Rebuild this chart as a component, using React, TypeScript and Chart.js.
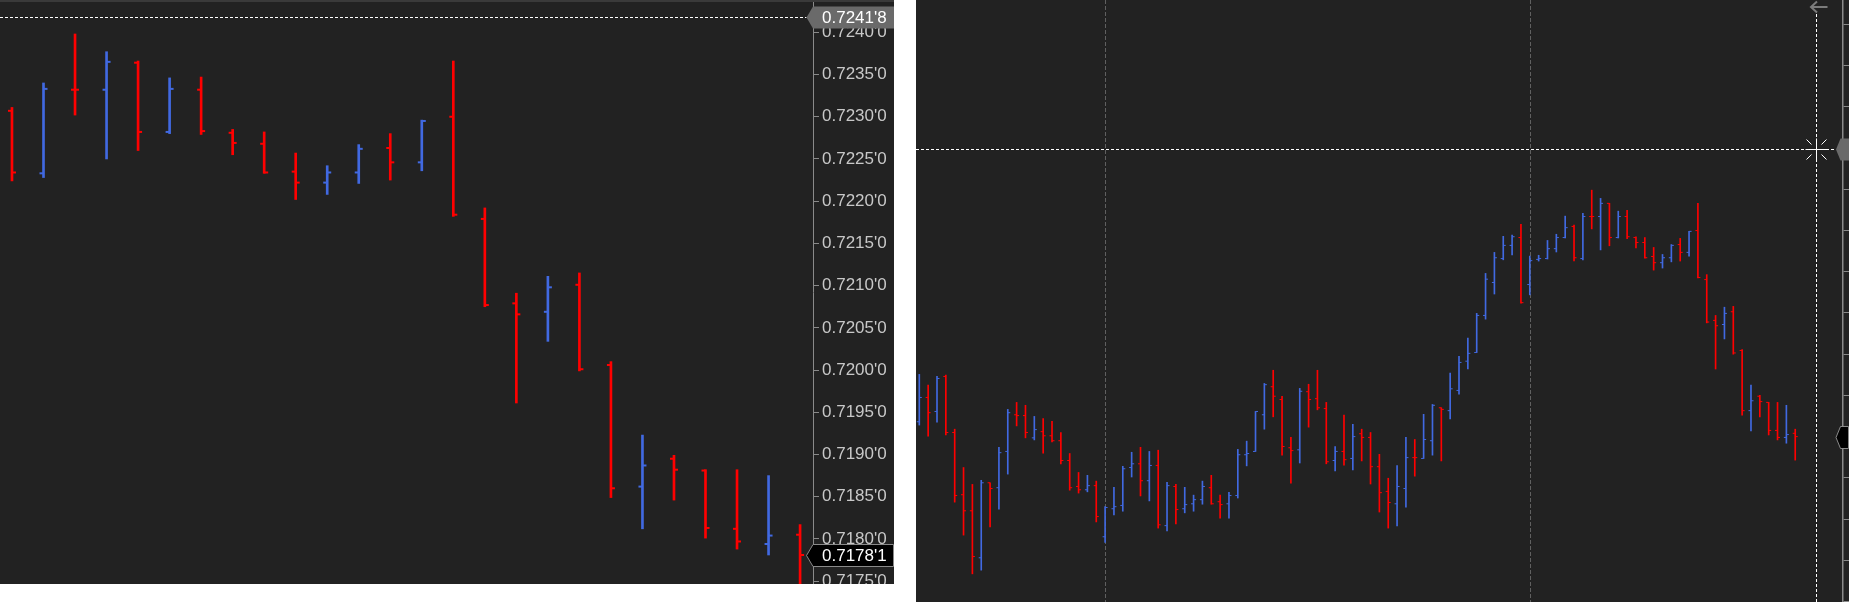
import React, { useEffect, useRef } from "react";
import { Chart, registerables } from "chart.js";

Chart.register(...registerables);

// ---------- Left panel (zoomed view, last 26 bars) ----------
const leftOpen = [0.72307, 0.72233, 0.72332, 0.72332, 0.72364, 0.72282, 0.72332, 0.72281, 0.72268, 0.72235, 0.72222, 0.72234, 0.72263, 0.72246, 0.723, 0.72179, 0.72079, 0.72069, 0.72101, 0.72006, 0.71862, 0.71895, 0.71881, 0.71812, 0.71794, 0.71805];
const leftHigh = [0.72311, 0.7234, 0.72398, 0.72377, 0.72366, 0.72346, 0.72347, 0.72285, 0.72282, 0.72257, 0.72242, 0.72267, 0.7228, 0.72296, 0.72366, 0.72192, 0.72091, 0.72111, 0.72115, 0.7201, 0.71923, 0.71899, 0.71882, 0.71882, 0.71875, 0.71817];
const leftLow = [0.72224, 0.72228, 0.72302, 0.7225, 0.7226, 0.7228, 0.72279, 0.72255, 0.72233, 0.72202, 0.72208, 0.72221, 0.72225, 0.72236, 0.72182, 0.72075, 0.71961, 0.72034, 0.71999, 0.71849, 0.71812, 0.71846, 0.71801, 0.71788, 0.71781, 0.71745];
const leftClose = [0.72234, 0.72333, 0.72332, 0.72365, 0.72282, 0.72333, 0.72283, 0.72269, 0.72234, 0.72222, 0.72234, 0.72262, 0.72246, 0.72295, 0.72184, 0.72077, 0.72066, 0.72098, 0.72001, 0.7186, 0.71887, 0.71882, 0.71813, 0.71797, 0.71804, 0.71781];
const leftTicks = [0.724, 0.7235, 0.723, 0.7225, 0.722, 0.7215, 0.721, 0.7205, 0.72, 0.7195, 0.719, 0.7185, 0.718, 0.7175];
const leftRange = { min: 0.7174664, max: 0.7243825, barMin: 0.62, barMax: 26.41 };
const leftCrossPrice = 0.72418;
const leftLastPrice = 0.71781;

// ---------- Right panel (overview, 100 bars) ----------
const rightOpen = [
  0.71836, 0.71895, 0.71861, 0.71946, 0.7181, 0.71659, 0.7162, 0.71506, 0.71688, 0.71676,
  0.71764, 0.71853, 0.71851, 0.71797, 0.71812, 0.71802, 0.7179, 0.71742, 0.71679, 0.71671,
  0.71681, 0.71557, 0.71625, 0.71633, 0.71725, 0.71734, 0.71693, 0.7173, 0.71584, 0.71679,
  0.71625, 0.71637, 0.71647, 0.71676, 0.71642, 0.71637, 0.71657, 0.71756, 0.71764, 0.71853,
  0.71921, 0.7189, 0.71773, 0.71768, 0.71909, 0.71892, 0.71868, 0.71742, 0.71764, 0.71747,
  0.71807, 0.71798, 0.71727, 0.71667, 0.71637, 0.71674, 0.71749, 0.71747, 0.7179, 0.7187,
  0.71863, 0.71912, 0.71983, 0.72004, 0.72094, 0.72174, 0.72232, 0.72264, 0.72283, 0.72169,
  0.7223, 0.72232, 0.72256, 0.72283, 0.7231, 0.72232, 0.72334, 0.72334, 0.72366, 0.72283,
  0.72334, 0.72283, 0.72271, 0.72237, 0.72222, 0.72234, 0.72266, 0.72247, 0.723, 0.72181,
  0.72082, 0.72072, 0.72103, 0.72009, 0.71863, 0.71898, 0.71883, 0.71815, 0.71798, 0.71808,
];
const rightHigh = [
  0.71951, 0.71925, 0.71946, 0.71949, 0.71818, 0.71725, 0.71684, 0.71694, 0.71688, 0.71774,
  0.71866, 0.71883, 0.71876, 0.71849, 0.71844, 0.71837, 0.7181, 0.71759, 0.71713, 0.71706,
  0.71692, 0.7163, 0.71677, 0.71728, 0.71762, 0.71774, 0.71764, 0.71767, 0.71689, 0.71684,
  0.71677, 0.71658, 0.71692, 0.71706, 0.71658, 0.71665, 0.71769, 0.71789, 0.71861, 0.71929,
  0.71961, 0.71898, 0.71798, 0.71917, 0.71927, 0.71961, 0.71883, 0.71776, 0.71852, 0.7183,
  0.71818, 0.7181, 0.71757, 0.71699, 0.7173, 0.71798, 0.71793, 0.71854, 0.71878, 0.7187,
  0.71954, 0.71995, 0.72039, 0.72099, 0.72196, 0.72247, 0.72286, 0.72289, 0.72315, 0.72238,
  0.7224, 0.72276, 0.72291, 0.72335, 0.72313, 0.72342, 0.72398, 0.72378, 0.72366, 0.72347,
  0.72349, 0.72285, 0.72283, 0.72259, 0.72242, 0.72266, 0.72281, 0.72298, 0.72366, 0.72193,
  0.72094, 0.72114, 0.72116, 0.72011, 0.71925, 0.719, 0.71883, 0.71883, 0.71876, 0.71818,
];
const rightLow = [
  0.71828, 0.71801, 0.71835, 0.71804, 0.71641, 0.71561, 0.71467, 0.71476, 0.71581, 0.71624,
  0.71709, 0.71826, 0.71797, 0.71792, 0.7176, 0.71787, 0.71734, 0.7167, 0.71663, 0.71666,
  0.71593, 0.71543, 0.7161, 0.71619, 0.71702, 0.71656, 0.71644, 0.71578, 0.71571, 0.71588,
  0.71615, 0.71619, 0.71636, 0.71636, 0.71602, 0.71602, 0.71651, 0.71729, 0.71764, 0.71818,
  0.71848, 0.71755, 0.71687, 0.71736, 0.71823, 0.71865, 0.71734, 0.71717, 0.71731, 0.71719,
  0.71741, 0.71685, 0.71617, 0.71578, 0.71583, 0.71629, 0.71704, 0.71747, 0.71755, 0.71741,
  0.71843, 0.71903, 0.71964, 0.72004, 0.72085, 0.72146, 0.72229, 0.72241, 0.72124, 0.72144,
  0.72226, 0.72231, 0.72248, 0.72282, 0.72226, 0.72229, 0.72304, 0.72253, 0.72263, 0.72282,
  0.7228, 0.72258, 0.72233, 0.72204, 0.72209, 0.72224, 0.72226, 0.72238, 0.72185, 0.72076,
  0.71964, 0.72037, 0.72, 0.71852, 0.71814, 0.71848, 0.71804, 0.71792, 0.71784, 0.71743,
];
const rightClose = [
  0.71895, 0.71858, 0.71941, 0.7181, 0.71657, 0.7162, 0.71509, 0.71688, 0.71674, 0.71761,
  0.71858, 0.71851, 0.7181, 0.71817, 0.71802, 0.7179, 0.71742, 0.71676, 0.71671, 0.71681,
  0.71606, 0.71628, 0.7163, 0.71722, 0.71734, 0.71693, 0.7173, 0.71586, 0.71681, 0.71623,
  0.71635, 0.71647, 0.71679, 0.71637, 0.71635, 0.71657, 0.71756, 0.71759, 0.71861, 0.71926,
  0.71898, 0.71776, 0.71766, 0.7191, 0.7189, 0.7187, 0.71739, 0.71764, 0.71744, 0.718,
  0.71798, 0.71727, 0.71664, 0.7164, 0.71679, 0.71749, 0.71749, 0.71793, 0.71876, 0.71866,
  0.71916, 0.7198, 0.72002, 0.72094, 0.72182, 0.72234, 0.72264, 0.72285, 0.72125, 0.72227,
  0.72232, 0.72256, 0.72283, 0.72307, 0.72234, 0.72334, 0.72334, 0.72366, 0.72283, 0.72334,
  0.72285, 0.72271, 0.72234, 0.72222, 0.72234, 0.72264, 0.72247, 0.72298, 0.72186, 0.72078,
  0.72069, 0.72099, 0.72003, 0.71863, 0.71887, 0.71885, 0.71815, 0.71798, 0.71805, 0.718,
];
const rightTicks = [0.714, 0.715, 0.716, 0.717, 0.718, 0.719, 0.72, 0.721, 0.722, 0.723, 0.724, 0.725, 0.726, 0.727, 0.728];
const rightRange = { min: 0.713987, max: 0.728594, barMin: 0.627, barMax: 105.4 };
const rightSessionBreaks = [22, 70];
const rightCrossBar = 102.38;
const rightCrossPrice = 0.72497;

// ---------- styling ----------
const UP = "#4169e1";
const DOWN = "#ff0000";
const BG = "#222222";
const AXIS = "#8a8a8a";
const FONT = "'Liberation Sans', Arial, Helvetica, sans-serif";

function fmtPrice(v: number): string {
  const s = v.toFixed(5);
  return s.slice(0, -1) + "'" + s.slice(-1);
}

function ohlcDatasets(open: number[], high: number[], low: number[], close: number[], barW: number, tickR: number, tickW: number): any[] {
  const colors = open.map((o, i) => (close[i] > o ? UP : DOWN));
  const tick = (vals: number[], rotation: number) => ({
    type: "line",
    data: vals.map((v, i) => ({ x: i + 1, y: v })),
    showLine: false,
    pointStyle: "dash",
    pointRotation: rotation,
    pointRadius: tickR,
    pointHoverRadius: tickR,
    pointBorderWidth: tickW,
    pointBorderColor: colors,
    pointBackgroundColor: colors,
  });
  return [
    {
      type: "bar",
      data: high.map((h, i) => ({ x: i + 1, y: [low[i], h] })),
      backgroundColor: colors,
      borderWidth: 0,
      barThickness: barW,
    },
    tick(open, 180),
    tick(close, 0),
  ];
}

function drawTag(ctx: CanvasRenderingContext2D, tipX: number, left: number, right: number, cy: number, h: number, fill: string, stroke?: string, text?: string) {
  ctx.beginPath();
  ctx.moveTo(tipX, cy);
  ctx.lineTo(left, cy - h / 2);
  ctx.lineTo(right, cy - h / 2);
  ctx.lineTo(right, cy + h / 2);
  ctx.lineTo(left, cy + h / 2);
  ctx.closePath();
  ctx.fillStyle = fill;
  ctx.fill();
  if (stroke) {
    ctx.strokeStyle = stroke;
    ctx.lineWidth = 1;
    ctx.stroke();
  }
  if (text) {
    ctx.fillStyle = "#ffffff";
    ctx.font = `17px ${FONT}`;
    ctx.textAlign = "left";
    ctx.textBaseline = "middle";
    ctx.fillText(text, left + 9, cy + 1);
  }
}

const leftOverlay = {
  id: "leftOverlay",
  afterDraw(chart: any) {
    const { ctx, chartArea, scales } = chart;
    const y = scales.y;
    const W = chart.width;
    ctx.save();
    ctx.fillStyle = "#3a3a3a";
    ctx.fillRect(0, 0, W, 2);
    const my = Math.round(y.getPixelForValue(leftCrossPrice)) + 0.5;
    const tipX = chartArea.right - 6.5;
    ctx.strokeStyle = "#ffffff";
    ctx.lineWidth = 1;
    ctx.setLineDash([3, 2]);
    ctx.beginPath();
    ctx.moveTo(chartArea.left, my);
    ctx.lineTo(tipX, my);
    ctx.stroke();
    ctx.setLineDash([]);
    drawTag(ctx, tipX, chartArea.right, W, my, 22, "#6a6a6a", undefined, fmtPrice(leftCrossPrice));
    const ly = Math.round(y.getPixelForValue(leftLastPrice)) + 0.5;
    drawTag(ctx, tipX, chartArea.right, W - 0.5, ly, 22, "#000000", AXIS, fmtPrice(leftLastPrice));
    ctx.restore();
  },
};

const rightOverlay = {
  id: "rightOverlay",
  beforeDatasetsDraw(chart: any) {
    const { ctx, chartArea, scales } = chart;
    const x = scales.x;
    ctx.save();
    ctx.strokeStyle = "#606060";
    ctx.lineWidth = 1;
    ctx.setLineDash([4, 2]);
    rightSessionBreaks.forEach((b) => {
      const px = Math.round(x.getPixelForValue(b)) + 0.5;
      ctx.beginPath();
      ctx.moveTo(px, chartArea.top);
      ctx.lineTo(px, chartArea.bottom);
      ctx.stroke();
    });
    ctx.restore();
  },
  afterDraw(chart: any) {
    const { ctx, chartArea, scales } = chart;
    const x = scales.x;
    const y = scales.y;
    const W = chart.width;
    const cx = Math.round(x.getPixelForValue(rightCrossBar)) + 0.5;
    const cy = Math.round(y.getPixelForValue(rightCrossPrice)) + 0.5;
    const tipX = chartArea.right - 7;
    ctx.save();
    ctx.strokeStyle = "#ffffff";
    ctx.lineWidth = 1;
    ctx.setLineDash([3, 2]);
    ctx.beginPath();
    ctx.moveTo(chartArea.left, cy);
    ctx.lineTo(tipX, cy);
    ctx.stroke();
    ctx.beginPath();
    ctx.moveTo(cx, 14);
    ctx.lineTo(cx, chartArea.bottom);
    ctx.stroke();
    ctx.setLineDash([]);
    ctx.beginPath();
    ctx.moveTo(cx - 11, cy);
    ctx.lineTo(cx + 11, cy);
    ctx.moveTo(cx, cy - 11);
    ctx.lineTo(cx, cy + 11);
    [[1, 1], [1, -1], [-1, 1], [-1, -1]].forEach(([sx, sy]) => {
      ctx.moveTo(cx + sx * 5, cy + sy * 5);
      ctx.lineTo(cx + sx * 10, cy + sy * 10);
    });
    ctx.stroke();
    // scroll arrow at top
    ctx.strokeStyle = "#7c7c7c";
    ctx.lineWidth = 2;
    ctx.beginPath();
    ctx.moveTo(cx - 6, 7);
    ctx.lineTo(cx + 11, 7);
    ctx.moveTo(cx + 0.5, 1.5);
    ctx.lineTo(cx - 5.5, 7);
    ctx.lineTo(cx + 0.5, 12.5);
    ctx.stroke();
    // axis markers
    drawTag(ctx, tipX, chartArea.right - 2.5, W, cy, 22, "#6a6a6a");
    const ly = Math.round(y.getPixelForValue(rightClose[rightClose.length - 1])) + 0.5;
    drawTag(ctx, tipX, chartArea.right - 2.5, W - 0.5, ly, 22, "#000000", AXIS);
    ctx.restore();
  },
};

function makeConfig(datasets: any[], range: any, yOpts: any, plugin: any): any {
  return {
    type: "bar",
    data: { datasets },
    options: {
      animation: false,
      responsive: false,
      events: [],
      layout: { padding: 0, autoPadding: false },
      plugins: { legend: { display: false }, tooltip: { enabled: false } },
      scales: {
        x: { type: "linear", min: range.barMin, max: range.barMax, offset: false, display: false },
        y: {
          type: "linear",
          position: "right",
          min: range.min,
          max: range.max,
          ...yOpts,
        },
      },
    },
    plugins: [plugin],
  };
}

function useChart(ref: React.RefObject<HTMLCanvasElement>, build: () => any) {
  useEffect(() => {
    if (!ref.current) return;
    const chart = new Chart(ref.current, build());
    return () => chart.destroy();
  }, []);
}

export default function App() {
  const leftRef = useRef<HTMLCanvasElement>(null);
  const rightRef = useRef<HTMLCanvasElement>(null);

  useChart(leftRef, () =>
    makeConfig(
      ohlcDatasets(leftOpen, leftHigh, leftLow, leftClose, 2, 4, 2),
      leftRange,
      {
        afterBuildTicks: (s: any) => {
          s.ticks = leftTicks.map((v) => ({ value: v }));
        },
        afterFit: (s: any) => {
          s.width = 81;
          s.paddingTop = 0;
          s.paddingBottom = 0;
        },
        ticks: {
          autoSkip: false,
          padding: 3,
          color: "#c8c8c8",
          font: { family: FONT, size: 17 },
          callback: (v: any) => fmtPrice(Number(v)),
        },
        grid: { drawOnChartArea: false, drawTicks: true, tickLength: 6, color: AXIS },
        border: { display: true, color: AXIS, width: 1 },
      },
      leftOverlay
    )
  );

  useChart(rightRef, () =>
    makeConfig(
      ohlcDatasets(rightOpen, rightHigh, rightLow, rightClose, 1, 2.5, 1),
      rightRange,
      {
        afterBuildTicks: (s: any) => {
          s.ticks = rightTicks.map((v) => ({ value: v }));
        },
        afterFit: (s: any) => {
          s.width = 6;
          s.paddingTop = 0;
          s.paddingBottom = 0;
        },
        ticks: { display: false },
        grid: { drawOnChartArea: false, drawTicks: true, tickLength: 6, color: AXIS },
        border: { display: true, color: AXIS, width: 1.5 },
      },
      rightOverlay
    )
  );

  return (
    <div style={{ position: "fixed", left: 0, top: 0, width: 1856, height: 608, background: "#ffffff", overflow: "hidden" }}>
      <div style={{ position: "absolute", left: 0, top: 0, width: 894, height: 584, background: BG, overflow: "hidden" }}>
        <canvas ref={leftRef} width={894} height={584} style={{ display: "block", width: 894, height: 584 }} />
      </div>
      <div style={{ position: "absolute", left: 916, top: 0, width: 933, height: 602, background: BG, overflow: "hidden" }}>
        <canvas ref={rightRef} width={933} height={602} style={{ display: "block", width: 933, height: 602 }} />
      </div>
    </div>
  );
}
